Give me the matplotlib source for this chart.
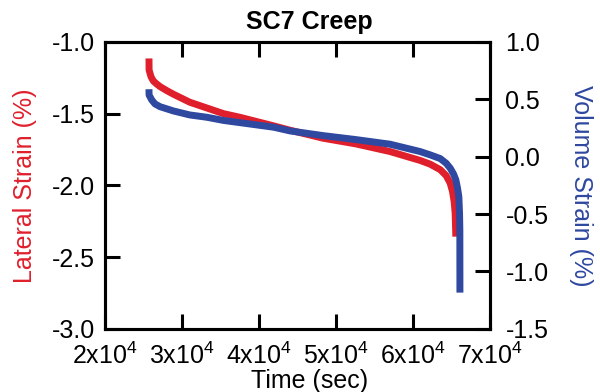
import matplotlib
matplotlib.use("Agg")
import matplotlib.pyplot as plt
from matplotlib.ticker import FuncFormatter, MultipleLocator

plt.rcParams['font.family'] = ['Liberation Sans', 'DejaVu Sans']
plt.rcParams['mathtext.fontset'] = 'custom'
plt.rcParams['mathtext.rm'] = 'Liberation Sans'
plt.rcParams['mathtext.it'] = 'Liberation Sans:italic'

RED = '#e01f2c'
BLUE = '#2f48a0'

# lateral strain (%) vs time (sec)
t_lat = [2.571e4, 2.572e4, 2.597e4, 2.627e4, 2.671e4, 2.714e4, 2.801e4, 2.887e4,
         3.10e4, 3.32e4, 3.54e4, 3.75e4, 3.97e4, 4.19e4, 4.40e4, 4.83e4,
         5.26e4, 5.70e4, 6.091e4, 6.221e4, 6.351e4, 6.429e4, 6.481e4, 6.511e4,
         6.532e4, 6.545e4, 6.554e4]
lat = [-1.115, -1.195, -1.242, -1.272, -1.293, -1.311, -1.339, -1.364,
       -1.42, -1.46, -1.50, -1.525, -1.555, -1.585, -1.615, -1.671,
       -1.711, -1.764, -1.826, -1.852, -1.89, -1.932, -1.985, -2.043,
       -2.113, -2.194, -2.357]

# volume strain (%) vs time (sec)
t_vol = [2.571e4, 2.572e4, 2.606e4, 2.649e4, 2.714e4, 2.887e4, 3.10e4, 3.32e4,
         3.54e4, 3.75e4, 3.97e4, 4.19e4, 4.40e4, 4.83e4, 5.26e4, 5.70e4,
         6.091e4, 6.221e4, 6.351e4, 6.429e4, 6.481e4, 6.524e4, 6.554e4, 6.576e4,
         6.593e4, 6.602e4, 6.606e4, 6.607e4]
vol = [0.588, 0.538, 0.495, 0.46, 0.436, 0.399, 0.364, 0.344,
       0.316, 0.297, 0.277, 0.257, 0.225, 0.184, 0.149, 0.109,
       0.045, 0.016, -0.016, -0.057, -0.10, -0.15, -0.202, -0.274,
       -0.348, -0.492, -0.638, -1.184]

xticks = [2e4, 3e4, 4e4, 5e4, 6e4, 7e4]

fig = plt.figure(figsize=(6, 3.92), dpi=100)
ax1 = fig.add_axes([0.175, 0.161, 0.642, 0.732])
ax2 = ax1.twinx()

ax1.plot(t_lat, lat, color=RED, lw=5, solid_capstyle='butt', solid_joinstyle='round')
ax2.plot(t_vol, vol, color=BLUE, lw=5, solid_capstyle='butt', solid_joinstyle='round')

ax1.set_xlim(2e4, 7e4)
ax1.set_ylim(-3.0, -1.0)
ax2.set_ylim(-1.5, 1.0)
ax1.set_xticks(xticks)
ax1.xaxis.set_major_formatter(FuncFormatter(lambda v, p: f"{int(round(v / 1e4))}x10$^{{4}}$"))
ax1.yaxis.set_major_locator(MultipleLocator(0.5))
ax2.yaxis.set_major_locator(MultipleLocator(0.5))
ax1.yaxis.set_major_formatter(FuncFormatter(lambda v, p: f"{v:.1f}"))
ax2.yaxis.set_major_formatter(FuncFormatter(lambda v, p: f"{v:.1f}"))

ax1.tick_params(axis='x', direction='in', top=True, length=11, width=2.2, labelsize=18, pad=10)
ax1.tick_params(axis='y', direction='in', length=11, width=2.2, labelsize=18, pad=7)
ax2.tick_params(axis='y', direction='in', length=11, width=2.2, labelsize=18, pad=11)

for ax in (ax1, ax2):
    for s in ax.spines.values():
        s.set_linewidth(2.2)

ax1.set_xlabel("Time (sec)", fontsize=18, labelpad=0, x=0.53)
ax1.set_ylabel("Lateral Strain (%)", fontsize=18, color=RED, labelpad=11)
ax2.set_ylabel("Volume Strain (%)", fontsize=18, color=BLUE, rotation=270, labelpad=32)
ax1.set_title("SC7 Creep", fontsize=18, fontweight='bold', pad=9, x=0.53)

fig.savefig("out.png", dpi=100)
